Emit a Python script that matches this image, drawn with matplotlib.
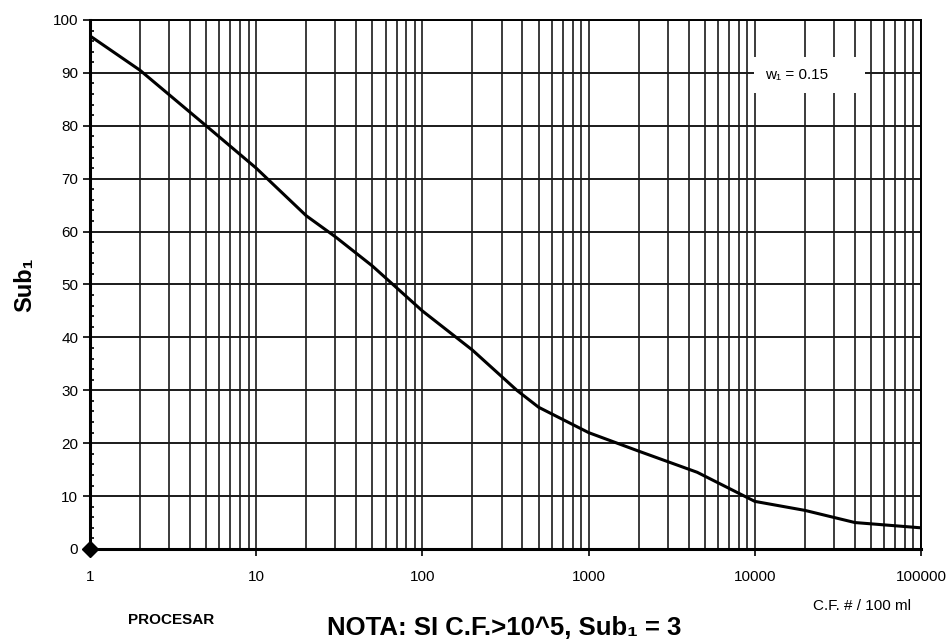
import matplotlib.pyplot as plt
from matplotlib.ticker import FixedLocator, MultipleLocator, NullFormatter

plt.rcParams['font.family'] = ['Liberation Sans Narrow', 'Liberation Sans', 'DejaVu Sans']

# curva Sub1 vs coliformes fecales
cf = [1, 2, 5, 10, 20, 30, 50, 100, 200, 370, 500, 1000, 2000, 4500, 10000, 20000, 40000, 100000]
sub1 = [97, 90.5, 80, 72, 63, 59, 53.5, 45, 37.6, 30, 26.8, 22, 18.5, 14.5, 9, 7.3, 5, 4]

x_ticks = [1, 10, 100, 1000, 10000, 100000]
x_labels = ['1', '10', '100', '1000', '10000', '100000']
y_ticks = list(range(0, 101, 10))

fig = plt.figure(figsize=(9.52, 6.43), dpi=100)
ax = fig.add_axes([0.0945, 0.1462, 0.873, 0.8227])

ax.set_xscale('log')
ax.set_xlim(1, 100000)
ax.set_ylim(0, 100)

ax.plot(cf, sub1, color='black', linewidth=2.2, zorder=3)
ax.plot([1], [0], marker='D', color='black', markersize=8, clip_on=False, zorder=4)

ax.xaxis.set_major_locator(FixedLocator(x_ticks))
ax.set_xticklabels(x_labels)
ax.xaxis.set_minor_formatter(NullFormatter())
ax.set_yticks(y_ticks)
ax.yaxis.set_minor_locator(MultipleLocator(2))

ax.grid(True, which='both', axis='x', color='#1a1a1a', linewidth=1.2)
ax.grid(True, which='major', axis='y', color='#1a1a1a', linewidth=1.4)

ax.tick_params(axis='x', which='major', direction='out', length=5, width=1.2, labelsize=11, pad=10)
ax.tick_params(axis='x', which='minor', length=0)
ax.tick_params(axis='y', which='major', direction='out', length=5, width=1.2, labelsize=11)
ax.tick_params(axis='y', which='minor', direction='in', length=3, width=1.2)

for side in ['left', 'bottom']:
    ax.spines[side].set_linewidth(2.2)
for side in ['top', 'right']:
    ax.spines[side].set_linewidth(1.4)

ax.set_ylabel('Sub₁', fontsize=17, fontweight='bold', labelpad=12)

ax.text(11500, 89.6, 'w₁ = 0.15      ', fontsize=11, ha='left', va='center',
        bbox=dict(facecolor='white', edgecolor='none', pad=8), zorder=5)

fig.text(0.905, 0.058, 'C.F. # / 100 ml', fontsize=11, ha='center', va='center')
fig.text(0.18, 0.035, 'PROCESAR', fontsize=11, fontweight='bold', ha='center', va='center')
fig.text(0.53, 0.023, 'NOTA: SI C.F.>10^5, Sub₁ = 3', fontsize=18.5,
         fontweight='bold', ha='center', va='center')

fig.savefig('out.png', dpi=100)
